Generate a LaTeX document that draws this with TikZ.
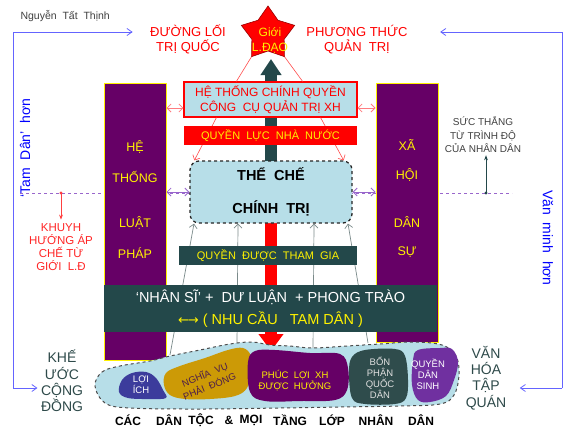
\documentclass[tikz,border=0pt]{standalone}
\usepackage{fontspec}
\setmainfont{Liberation Sans}
\newfontfamily\arrowfont{DejaVu Sans}
\usetikzlibrary{calc,positioning,shapes,arrows.meta}
\definecolor{plum}{HTML}{660066}
\definecolor{deepteal}{HTML}{23484A}
\definecolor{paleblue}{HTML}{B7DEE8}
\definecolor{frameblue}{HTML}{6464FF}
\definecolor{steel}{HTML}{7A8A8A}
\definecolor{pinkline}{HTML}{FF7C80}
\definecolor{lilac}{HTML}{9966CC}
\definecolor{slate}{HTML}{2E4A4A}
\definecolor{goldblob}{HTML}{CC9A06}
\definecolor{navyblob}{HTML}{3C3C9C}
\definecolor{qdsviolet}{HTML}{7030A0}
\definecolor{soleteal}{HTML}{2F4C4C}
\definecolor{plumtxt}{HTML}{4B1C4B}

\begin{document}
\begin{tikzpicture}[x=1pt,y=-1pt,
 col/.style={draw=yellow, fill=plum, line width=1pt, inner sep=0},
 coltxt/.style={text=yellow, font=\fontsize{12.5}{15}\selectfont},
 bar/.style={minimum width=173, minimum height=19, inner sep=0, text=yellow, font=\fontsize{11}{13}\selectfont},
 link/.style={{Straight Barb[length=4pt]}-{Straight Barb[length=4pt]}, line width=0.8pt},
 feed/.style={draw=steel, line width=0.7pt, -{Straight Barb[length=4pt]}},
 frame/.style={draw=frameblue, line width=0.8pt, -{Straight Barb[length=5pt,width=7pt]}},
 sole/.style={inner sep=0, align=center, font=\fontsize{9.5}{11}\selectfont},
 side/.style={align=center, text=slate, font=\fontsize{14}{16.3}\selectfont}]
\useasboundingbox (0,0) rectangle (569,437);
\fill[white] (0,0) rectangle (569,437);

% named points
\coordinate (core) at (271,192);
\coordinate (lead) at (271,59);
\coordinate (sole) at (271,351);
\coordinate (pinky) at (0,108);
\coordinate (kdot) at (61,193);
\coordinate (sdot) at (486,193);
\coordinate (ftl) at (13,32); \coordinate (fbl) at (13,388);
\coordinate (ftr) at (562,32); \coordinate (fbr) at (562,388);

% side labels
\node[text=darkgray, anchor=west, font=\fontsize{10.5}{12}\selectfont] (auth) at (17,16) {Nguyễn~ Tất~ Thịnh};
\node[text=red, align=center, font=\fontsize{13}{15}\selectfont] (dltq) at (188,39.5) {ĐƯỜNG LỐI\\TRỊ QUỐC};
\node[text=red, align=center, font=\fontsize{13}{15}\selectfont] (pttq) at (357,39.5) {PHƯƠNG THỨC\\QUẢN~ TRỊ};
\node[rotate=90, text=blue, font=\fontsize{14}{16}\selectfont] (tdh) at (25,148) {‘Tam~ Dân’~ hơn};
\node[rotate=-90, text=blue, font=\fontsize{14}{16}\selectfont] (vmh) at (548,238) {Văn~ minh~ hơn};
\node[side] (khe) at (62,381) {KHẾ\\ƯỚC\\CỘNG\\ĐỒNG};
\node[side] (vhtq) at (486,378) {VĂN\\HÓA\\TẬP\\QUÁN};
\node[text=red!85, align=center, font=\fontsize{11.5}{13.2}\selectfont] (kh) at (61,247) {KHUYH\\HƯỚNG ÁP\\CHẾ TỪ\\GIỚI~ L.Đ};
\node[text=darkgray, align=center, inner sep=2pt, font=\fontsize{10}{13.5}\selectfont] (st) at (483,135) {SỨC THẮNG\\TỪ TRÌNH ĐỘ\\CỦA NHÂN DÂN};

% frame
\draw[frame, shorten >=14pt] (fbl) -- (ftl) -- (ftl -| dltq.west);
\draw[frame, shorten >=29pt] (fbr) -- (ftr) -- (ftr -| pttq.east);
\draw[frame] (fbl) -- (fbl -| khe.west);
\draw[frame, shorten >=10pt] (fbr) -- (fbr -| vhtq.east);

\draw[lilac, dashed, line width=0.6pt] (20,193) -- (512,193);
\draw[red!75, line width=0.8pt, -{Stealth[length=5pt]}] (kdot) -- (kh.north);
\fill[red!75] (kdot) circle (1.7);
\draw[deepteal, line width=0.8pt, -{Stealth[length=5pt]}] (sdot) -- (sdot |- st.south);
\fill[deepteal] (sdot) circle (1.7);

% main arrows
\draw[deepteal, line width=12pt, -{Triangle[width=20pt,length=16pt]}] (core) -- (lead);
\draw[red, line width=12pt, -{Triangle[width=24pt,length=17pt]}] (core) -- (sole);

% columns
\node[col, minimum width=62, minimum height=277] (lcol) at (135,221.5) {};
\node[col, minimum width=62, minimum height=259] (rcol) at (407,212.5) {};
\foreach \t/\y [count=\i] in {HỆ/147, THỐNG/177, LUẬT/223, PHÁP/253}
 \node[coltxt] (lt\i) at (135,\y) {\t};
\foreach \t/\y [count=\i] in {XÃ/145, HỘI/175, DÂN/222, SỰ/252}
 \node[coltxt] (rt\i) at (407,\y) {\t};

\node[draw=black!85, dashed, line width=1.3pt, rounded corners=9pt, fill=paleblue, minimum width=162, minimum height=62, inner sep=0, align=center, font=\bfseries\fontsize{14.5}{33}\selectfont] (tcct) at (core) {THỂ~~CHẾ\\CHÍNH~~TRỊ};

\foreach \sx/\sy/\ex [count=\i] in {170/355/194, 237/345/238, 313/350/314, 368/343/348}{
 \coordinate (f\i) at (\sx,\sy);
 \draw[feed] (f\i) -- (\ex,0 |- tcct.south);}

\node[bar, fill=deepteal, minimum width=178] (qdtg) at (268,255.5) {QUYỀN~~ĐƯỢC~~THAM~~GIA};
\node[draw=red, line width=1.2pt, fill=paleblue, minimum width=173, minimum height=35, inner sep=0, align=center, text=red, font=\fontsize{12}{15}\selectfont] (htcq) at (270.5,99.5) {HỆ THỐNG CHÍNH QUYỀN\\CÔNG~ CỤ QUẢN TRỊ XH};
\draw[red!70, line width=0.6pt, -{Straight Barb[length=4pt]}] ([xshift=33]htcq.south west) -- ([xshift=5]tcct.north west);
\draw[red!70, line width=0.6pt, -{Straight Barb[length=4pt]}] ([xshift=-37]htcq.south east) -- ([xshift=-9]tcct.north east);
\node[bar, fill=red] (qlnn) at (270.5,135.5) {QUYỀN~~LỰC~~NHÀ~~NƯỚC};

\draw[link, pinkline] (htcq.west |- pinky) -- (lcol.east |- pinky);
\draw[link, pinkline] (htcq.east |- pinky) -- (rcol.west |- pinky);
\draw[link, lilac] (tcct.west) -- (tcct.west -| lcol.east);
\draw[link, lilac] (tcct.east) -- (tcct.east -| rcol.west);

% star
\begin{scope}[shift={(268,34)}]
\fill[red, draw=red!60!black, line width=0.6pt] (-90:28)
 \foreach \a/\r in {-54/17, -18/28, 18/17, 54/28, 90/17, 126/28, 162/17, 198/28, 234/17} { -- (\a:\r)} -- cycle;
\coordinate (slo) at (126:28);
\coordinate (sro) at (54:28);
\end{scope}
\node[text=yellow, align=center, font=\fontsize{12}{15}\selectfont] (gld) at (270,40) {Giới\\L.ĐẠO};
\draw[red!70, line width=0.6pt] (slo) -- ([xshift=53]htcq.north west);
\draw[red!70, line width=0.6pt] (sro) -- ([xshift=-55]htcq.north east);

\node[fill=deepteal, minimum width=333, minimum height=47, inner sep=0, align=center, text=white, font=\fontsize{14.5}{22}\selectfont] (nsdl) at (270.5,308.5) {‘NHÂN~SĨ’~+~~DƯ~LUẬN~~+~PHONG~TRÀO\\\textcolor{yellow}{{\arrowfont\fontsize{13}{22}\selectfont←\kern-1pt→} ( NHU CẦU~~~TAM DÂN )}};

% footprint
\draw[black!70, dashed, line width=1pt, fill=paleblue] plot[smooth cycle, tension=0.6] coordinates {(95,386) (102,372) (120,366) (150,361) (170,356) (200,350) (230,344) (252,342) (270,345) (290,346) (313,348) (347,346) (380,344) (413,342) (442,345) (456,356) (459,375) (454,395) (440,404) (400,406) (340,407) (280,408) (200,409) (130,408) (105,403)};
\fill[navyblob] plot[smooth cycle, tension=0.6] coordinates {(119,392) (122,380) (132,373) (146,372) (156,378) (163,390) (166,398) (150,399) (128,398)};
\fill[goldblob] plot[smooth cycle, tension=0.6] coordinates {(164,385) (166,373) (180,366) (205,358) (228,350) (243,348) (251,356) (251,372) (247,388) (235,396) (210,399) (185,399) (170,395)};
\fill[plum] plot[smooth cycle, tension=0.6] coordinates {(248,362) (255,351) (275,350) (310,353) (340,354) (348,368) (347,390) (335,400) (300,401) (265,401) (250,392)};
\fill[soleteal] plot[smooth cycle, tension=0.6] coordinates {(349,372) (352,357) (365,350) (395,349) (405,356) (408,380) (406,398) (395,404) (365,404) (352,398)};
\fill[qdsviolet] plot[smooth cycle, tension=0.6] coordinates {(413,360) (418,350) (440,348) (452,349) (458,362) (454,380) (446,396) (430,402) (418,400) (412,385)};
\node[sole, text=white] (li) at (141,385) {LỢI\\ÍCH};
\node[sole, text=plumtxt, rotate=22, font=\fontsize{9.5}{12.5}\selectfont] (nv) at (207,380) {NGHĨA~ VỤ\\PHẢI~ ĐÓNG};
\node[sole, text=yellow] (pl) at (295,380.5) {PHÚC~ LỢI~ XH\\ĐƯỢC~ HƯỞNG};
\node[sole, text=white!88!black] (bp) at (380,377.5) {BỔN\\PHẬN\\QUỐC\\DÂN};
\node[sole, text=white] (qd) at (428,374.5) {QUYỀN\\DÂN\\SINH};

% bottom line
\foreach \w/\x [count=\i] in {CÁC/128, DÂN/169, TỘC/201, \&/229, MỌI/251, TẦNG/290, LỚP/332, NHÂN/376, DÂN/421}
 \node[font=\bfseries\fontsize{12}{14}\selectfont] (b\i) at (\x,420) {\w};
\end{tikzpicture}
\end{document}
